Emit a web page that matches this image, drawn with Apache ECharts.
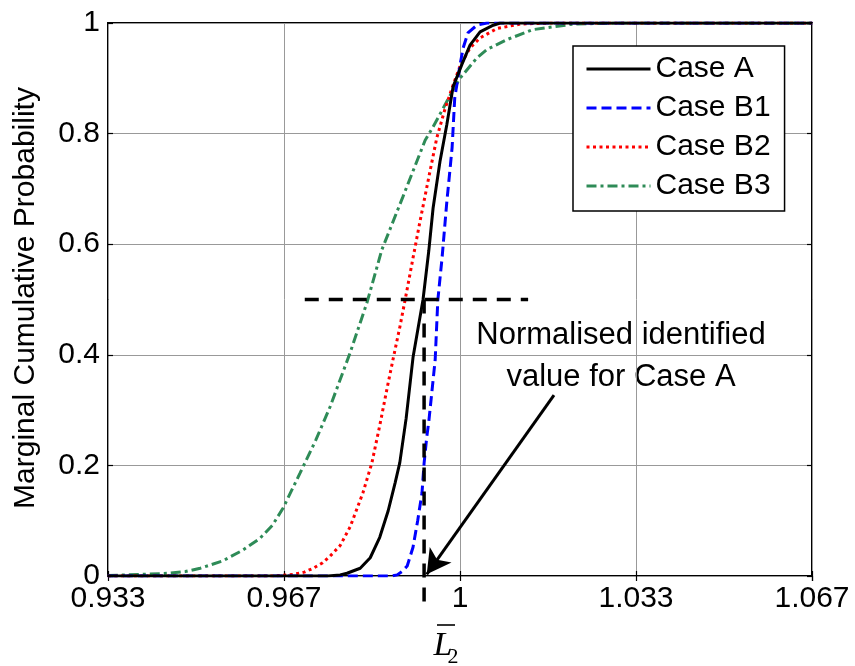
<!DOCTYPE html>
<html>
<head>
<meta charset="utf-8">
<script src="https://cdn.jsdelivr.net/npm/echarts@6/dist/echarts.min.js"></script>
<style>
  html, body { margin: 0; padding: 0; background: #fff; }
  #chart { width: 855px; height: 666px; }
</style>
</head>
<body>
<div id="chart"></div>
<script>
// Marginal cumulative probability of the normalised parameter L2 for four cases
const seriesNames = ['Case A', 'Case B1', 'Case B2', 'Case B3'];

const xTicks = [0.933, 0.967, 1, 1.033, 1.067];

const caseA = [
  [0.9333, 0], [0.9750, 0], [0.9773, 0.002], [0.9786, 0.005], [0.9811, 0.014],
  [0.9830, 0.033], [0.9848, 0.070], [0.9864, 0.118], [0.9877, 0.168], [0.9886, 0.205],
  [0.9898, 0.285], [0.9911, 0.395], [0.9920, 0.445], [0.9930, 0.500], [0.9941, 0.589],
  [0.9949, 0.665], [0.9962, 0.749], [0.9975, 0.816], [0.9987, 0.885], [1.0004, 0.926],
  [1.0019, 0.960], [1.0038, 0.984], [1.0063, 0.996], [1.0076, 1.0], [1.0667, 1.0]
];

const caseB1 = [
  [0.9333, 0], [0.9870, 0], [0.9881, 0.002], [0.9890, 0.008], [0.9900, 0.018],
  [0.9911, 0.052], [0.9920, 0.101], [0.9928, 0.150], [0.9932, 0.204], [0.9937, 0.251],
  [0.9941, 0.280], [0.9953, 0.391], [0.9958, 0.499], [0.9966, 0.575], [0.9975, 0.676],
  [0.9985, 0.774], [0.9990, 0.864], [1.0000, 0.924], [1.0006, 0.955], [1.0015, 0.982],
  [1.0032, 0.996], [1.0051, 1.0], [1.0667, 1.0]
];

const caseB2 = [
  [0.9333, 0], [0.9650, 0], [0.9684, 0.003], [0.9705, 0.007], [0.9722, 0.014],
  [0.9740, 0.024], [0.9754, 0.036], [0.9773, 0.055], [0.9792, 0.089], [0.9816, 0.150],
  [0.9833, 0.204], [0.9848, 0.272], [0.9862, 0.340], [0.9873, 0.391], [0.9886, 0.450],
  [0.9896, 0.499], [0.9911, 0.575], [0.9924, 0.640], [0.9943, 0.731], [0.9956, 0.792],
  [0.9972, 0.846], [0.9987, 0.888], [1.0000, 0.922], [1.0019, 0.955], [1.0038, 0.973],
  [1.0070, 0.990], [1.0114, 0.998], [1.0170, 1.0], [1.0667, 1.0]
];

const caseB3 = [
  [0.9333, 0.001], [0.9400, 0.003], [0.9450, 0.005], [0.9480, 0.008], [0.9508, 0.014],
  [0.9550, 0.027], [0.9589, 0.047], [0.9621, 0.068], [0.9645, 0.092], [0.9665, 0.123],
  [0.9697, 0.186], [0.9727, 0.246], [0.9754, 0.306], [0.9792, 0.404], [0.9824, 0.495],
  [0.9852, 0.590], [0.9892, 0.686], [0.9934, 0.788], [0.9949, 0.812], [0.9987, 0.879],
  [1.0000, 0.900], [1.0032, 0.937], [1.0051, 0.952], [1.0089, 0.970], [1.0138, 0.988],
  [1.0214, 0.998], [1.0300, 1.0], [1.0667, 1.0]
];

// Identified value of Case A (median) and its guide lines
const identifiedX = 0.9932;
const medianLevel = 0.5;
const medianGuide = [[0.9706, medianLevel], [1.0129, medianLevel]];
const identifiedGuide = [[identifiedX, medianLevel], [identifiedX, -0.053]];
const arrowFrom = [1.0178, 0.327];
const arrowTo = [0.9937, 0.003];

const FONT = '"Liberation Sans", Arial, Helvetica, sans-serif';
const SERIF = '"Liberation Serif", "Times New Roman", serif';
const chart = echarts.init(document.getElementById('chart'), null, { renderer: 'canvas' });

const axisCommon = {
  type: 'value',
  axisLine: { show: false },
  splitLine: { show: false },
  axisTick: { show: true, inside: true, length: 5, lineStyle: { color: '#000', width: 1.2 } },
  axisLabel: { show: false }
};

const option = {
  backgroundColor: '#fff',
  animation: false,
  grid: {
    left: 108, top: 23, right: 43, bottom: 90,
    show: true, borderColor: '#000', borderWidth: 2, backgroundColor: 'transparent'
  },
  legend: {
    orient: 'vertical',
    left: 573, top: 46,
    padding: [8, 14, 10, 12],
    itemWidth: 64, itemHeight: 14, itemGap: 9,
    backgroundColor: '#fff',
    borderColor: '#000', borderWidth: 1.5, borderRadius: 0,
    data: seriesNames,
    itemStyle: { opacity: 0 },
    lineStyle: { width: 3 },
    textStyle: { fontFamily: FONT, fontSize: 30, color: '#000' }
  },
  xAxis: [
    Object.assign({}, axisCommon, {
      min: 0.93333333, max: 1.06666667, interval: 1 / 30,
      position: 'bottom',
      axisLabel: {
        show: true, margin: 8, color: '#000', fontFamily: FONT, fontSize: 30,
        formatter: v => String(xTicks.reduce((a, b) => Math.abs(b - v) < Math.abs(a - v) ? b : a))
      },
      splitLine: { show: true, lineStyle: { color: '#999', width: 1 } }
    }),
    Object.assign({}, axisCommon, {
      min: 0.93333333, max: 1.06666667, interval: 1 / 30, position: 'top'
    })
  ],
  yAxis: [
    Object.assign({}, axisCommon, {
      min: 0, max: 1, interval: 0.2, position: 'left',
      axisLabel: { show: true, margin: 8, color: '#000', fontFamily: FONT, fontSize: 30 },
      splitLine: { show: true, lineStyle: { color: '#999', width: 1 } }
    }),
    Object.assign({}, axisCommon, { min: 0, max: 1, interval: 0.2, position: 'right' })
  ],
  graphic: [
    {
      type: 'text', x: 26, y: 298, rotation: Math.PI / 2,
      style: {
        text: 'Marginal Cumulative Probability', fontFamily: FONT, fontSize: 30,
        fill: '#000', align: 'center', verticalAlign: 'middle'
      }
    },
    {
      type: 'text', x: 621, y: 356,
      style: {
        text: 'Normalised identified\nvalue for Case A', fontFamily: FONT, fontSize: 31,
        lineHeight: 42, fill: '#000', align: 'center', verticalAlign: 'middle'
      }
    },
    // x-axis name: L with an overbar and subscript 2
    {
      type: 'text', x: 443, y: 646, z: 10,
      style: {
        text: 'L', fontFamily: SERIF, fontStyle: 'italic', fontSize: 34,
        fill: '#000', align: 'center', verticalAlign: 'middle'
      }
    },
    {
      type: 'text', x: 453, y: 657, z: 10,
      style: {
        text: '2', fontFamily: SERIF, fontSize: 22,
        fill: '#000', align: 'center', verticalAlign: 'middle'
      }
    },
    {
      type: 'line', z: 10, shape: { x1: 437, y1: 625, x2: 455, y2: 625 },
      style: { stroke: '#000', lineWidth: 1.6 }
    }
  ],
  series: [
    {
      name: 'Case A', type: 'line', data: caseA, symbol: 'none', z: 5,
      lineStyle: { color: '#000', width: 3, type: 'solid' }, itemStyle: { color: '#000' }
    },
    {
      name: 'Case B1', type: 'line', data: caseB1, symbol: 'none', z: 4,
      lineStyle: { color: '#0000ff', width: 3, type: [10, 5] }, itemStyle: { color: '#0000ff' }
    },
    {
      name: 'Case B2', type: 'line', data: caseB2, symbol: 'none', z: 3,
      lineStyle: { color: '#ff0000', width: 3, type: [3, 3.5] }, itemStyle: { color: '#ff0000' }
    },
    {
      name: 'Case B3', type: 'line', data: caseB3, symbol: 'none', z: 2,
      lineStyle: { color: '#2e8b57', width: 3, type: [10, 4, 3, 4] }, itemStyle: { color: '#2e8b57' }
    },
    {
      name: 'median', type: 'line', data: medianGuide, symbol: 'none', z: 6, clip: false,
      lineStyle: { color: '#000', width: 3.5, type: [14, 10] }, silent: true
    },
    {
      name: 'identified', type: 'line', data: identifiedGuide, symbol: 'none', z: 6, clip: false,
      lineStyle: { color: '#000', width: 3.5, type: [14, 10] }, silent: true,
      markLine: {
        silent: true, symbol: ['none', 'arrow'], symbolSize: [20, 24],
        lineStyle: { color: '#000', width: 3, type: 'solid' },
        label: { show: false },
        data: [[{ coord: arrowFrom }, { coord: arrowTo }]]
      }
    }
  ]
};

chart.setOption(option);
</script>
</body>
</html>
